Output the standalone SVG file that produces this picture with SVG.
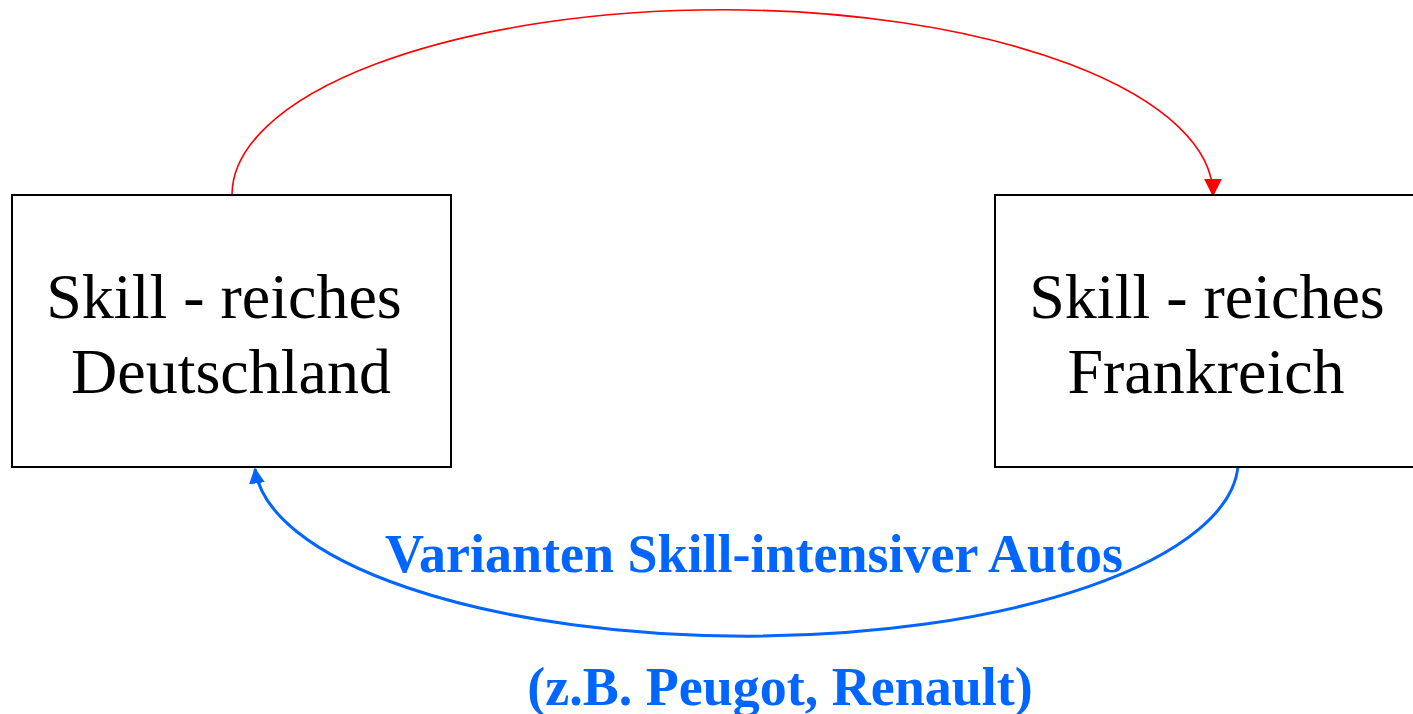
<svg xmlns="http://www.w3.org/2000/svg" width="1413" height="714" viewBox="0 0 1413 714">
<style>
.box{fill:#fff;stroke:#000;stroke-width:2}
.lbl{font-family:"Liberation Serif",serif;font-size:64px;fill:#000;text-anchor:middle}
.blue{font-family:"Liberation Serif",serif;font-size:54px;font-weight:bold;fill:#0066ff;text-anchor:middle}
</style>
<defs>
<marker id="ar" viewBox="0 0 10 10" markerWidth="18" markerHeight="24" refX="9" refY="5" orient="auto" markerUnits="userSpaceOnUse"><path d="M0,0 L10,5 L0,10 z" fill="#ff0000"/></marker>
<marker id="ab" viewBox="0 0 10 10" markerWidth="16" markerHeight="17" refX="9" refY="5" orient="auto" markerUnits="userSpaceOnUse"><path d="M0,0 L10,5 L0,10 z" fill="#0066ff"/></marker>
</defs>
<rect width="1413" height="714" fill="#fff"/>
<g id="connectors">
<path d="M232,195 A490,185 0 0 1 1213,195" fill="none" stroke="#ff0000" stroke-width="1.6" marker-end="url(#ar)"/>
<path d="M1238,467 A492,176 0 0 1 255,469" fill="none" stroke="#0066ff" stroke-width="3" marker-end="url(#ab)"/>
</g>
<g id="node-de">
<rect class="box" x="12" y="195" width="439" height="272"/>
<text class="lbl" x="224" y="318">Skill - reiches</text>
<text class="lbl" x="231" y="393">Deutschland</text>
</g>
<g id="node-fr">
<rect class="box" x="995" y="195" width="440" height="272"/>
<text class="lbl" x="1207" y="318">Skill - reiches</text>
<text class="lbl" x="1206" y="393">Frankreich</text>
</g>
<g id="label">
<text class="blue" x="754" y="572">Varianten Skill-intensiver Autos</text>
<text class="blue" x="780" y="705">(z.B. Peugot, Renault)</text>
</g>
</svg>
